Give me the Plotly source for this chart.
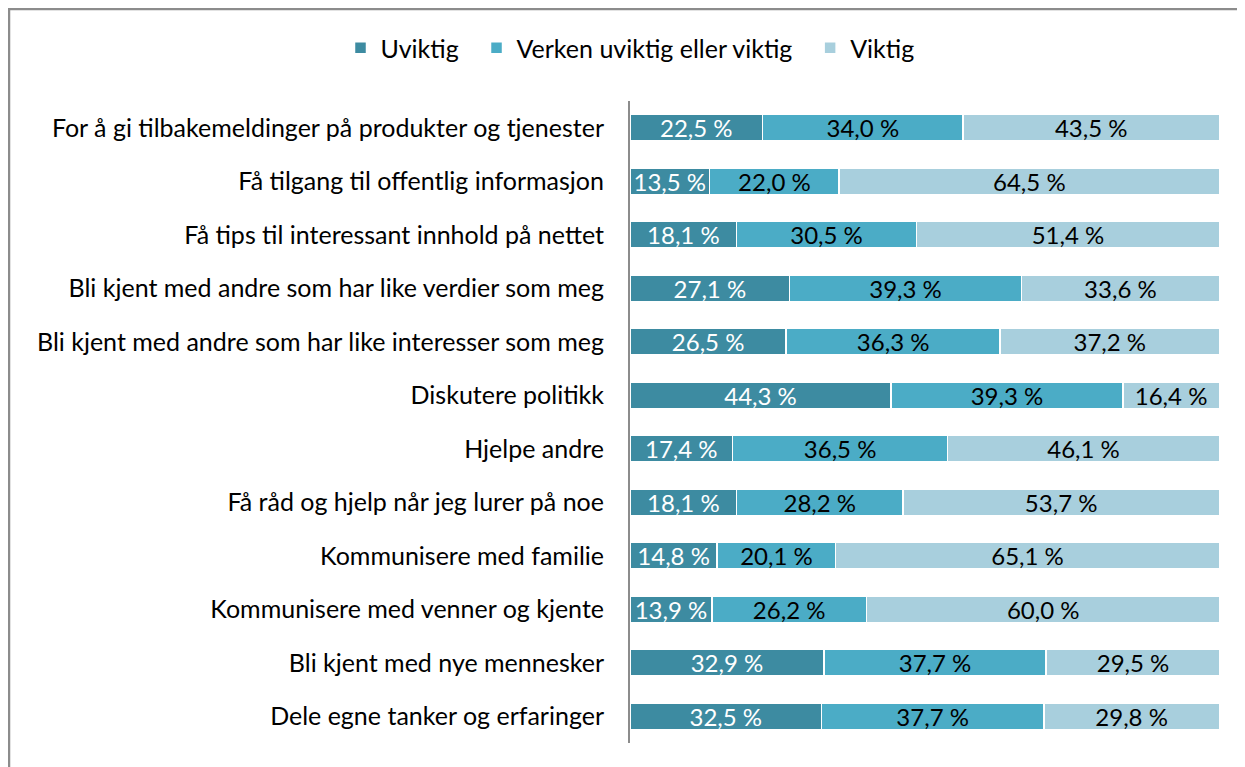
import plotly.graph_objects as go

categories = [
    "For å gi tilbakemeldinger på produkter og tjenester",
    "Få tilgang til offentlig informasjon",
    "Få tips til interessant innhold på nettet",
    "Bli kjent med andre som har like verdier som meg",
    "Bli kjent med andre som har like interesser som meg",
    "Diskutere politikk",
    "Hjelpe andre",
    "Få råd og hjelp når jeg lurer på noe",
    "Kommunisere med familie",
    "Kommunisere med venner og kjente",
    "Bli kjent med nye mennesker",
    "Dele egne tanker og erfaringer",
]
uviktig = [22.5, 13.5, 18.1, 27.1, 26.5, 44.3, 17.4, 18.1, 14.8, 13.9, 32.9, 32.5]
verken = [34.0, 22.0, 30.5, 39.3, 36.3, 39.3, 36.5, 28.2, 20.1, 26.2, 37.7, 37.7]
viktig = [43.5, 64.5, 51.4, 33.6, 37.2, 16.4, 46.1, 53.7, 65.1, 60.0, 29.5, 29.8]

series_names = ["Uviktig", "Verken uviktig eller viktig", "Viktig"]
series = [
    (series_names[0], uviktig, "#3D8BA1", "white"),
    (series_names[1], verken, "#4BACC6", "black"),
    (series_names[2], viktig, "#A8CFDD", "black"),
]

FONT = "Lato"
NBSP = "\u00a0"

def fmt(v):
    return f"{v:.1f} %".replace(".", ",")

fig = go.Figure()
for i, (name, vals, color, tcolor) in enumerate(series):
    label = name + (NBSP * 2 if i < len(series) - 1 else "")
    fig.add_trace(go.Bar(
        y=categories, x=vals, name=label, orientation="h",
        marker=dict(color=color, line=dict(color="white", width=1.5)),
        text=[fmt(v) for v in vals], textposition="inside",
        insidetextanchor="middle", constraintext="none",
        textfont=dict(family=FONT, size=24, color=tcolor),
        hoverinfo="skip",
    ))

# page is offset by 8px body margin; positions below are in page pixels
OFF = 8
W, H = 1245 - OFF, 767 - OFF
L = 630 - OFF
R = 1245 - 1220
T = 101 - OFF
B = 767 - 743
pw, ph = W - L - R, H - T - B

def px_x(p):
    return (p - OFF - L) / pw

def px_y(p):
    return (H - B - (p - OFF)) / ph

fig.update_layout(
    barmode="stack", bargap=0.51,
    width=W, height=H,
    margin=dict(l=L, r=R, t=T, b=B),
    paper_bgcolor="white", plot_bgcolor="white",
    font=dict(family=FONT, size=22, color="black"),
    showlegend=True,
    legend=dict(orientation="h", x=px_x(630), xanchor="center",
                y=px_y(48), yanchor="middle",
                font=dict(family=FONT, size=25, color="black"),
                traceorder="normal", itemwidth=30),
    xaxis=dict(range=[0, 100.1], visible=False, fixedrange=True),
    yaxis=dict(autorange="reversed", showline=True, linecolor="#8c8c8c",
               linewidth=2, ticks="", ticklabelstandoff=19,
               tickfont=dict(family=FONT, size=25, color="black"),
               showgrid=False),
    shapes=[dict(type="rect", xref="paper", yref="paper",
                 x0=px_x(9), x1=px_x(1265),
                 y0=px_y(790), y1=px_y(9),
                 line=dict(color="#8c8c8c", width=2.5), layer="below")],
)

fig.write_html("out.html")
